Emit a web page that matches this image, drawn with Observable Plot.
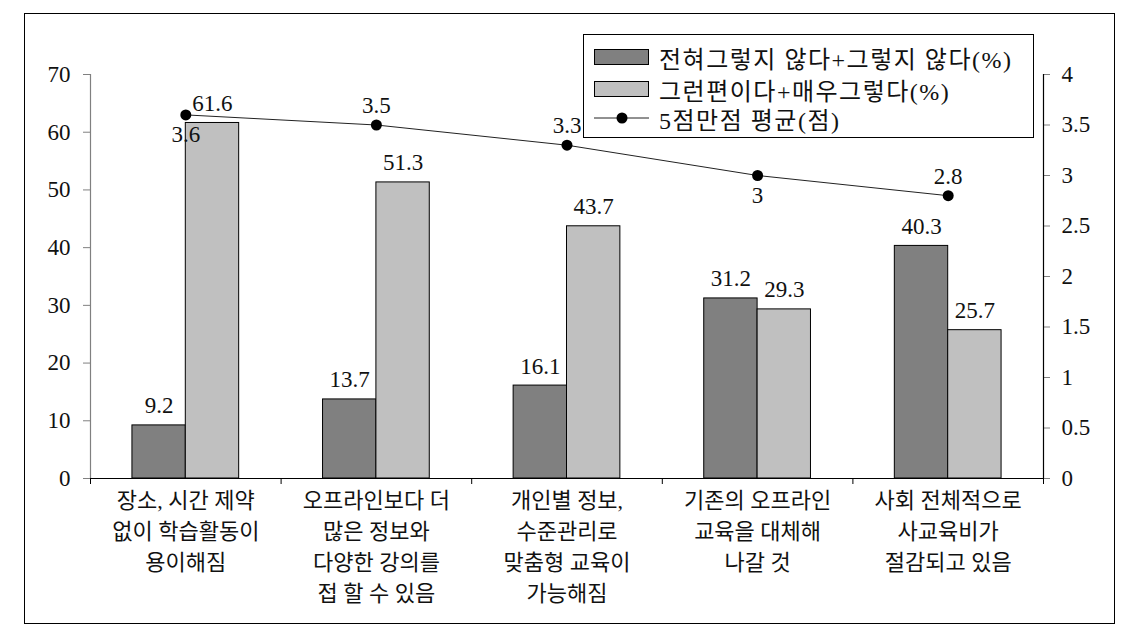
<!DOCTYPE html>
<html>
<head>
<meta charset="utf-8">
<script src="https://cdn.jsdelivr.net/npm/d3@7"></script>
<script src="https://cdn.jsdelivr.net/npm/@observablehq/plot@0.6"></script>
<style>
  html, body { margin: 0; padding: 0; background: #fff; }
  #wrap { position: relative; width: 1141px; height: 631px; overflow: hidden;
          font-family: 'Liberation Serif', 'Noto Sans CJK KR', serif; }
  #frame { position: absolute; left: 24px; top: 13px; width: 1091px; height: 611px;
           border: 1.5px solid #000; box-sizing: border-box; pointer-events: none; }
  #legend { position: absolute; left: 583px; top: 34px; width: 451px; height: 104px;
            border: 1.5px solid #000; box-sizing: border-box; background: #fff; }
  .row { position: absolute; left: 10px; height: 30px; display: flex; align-items: center; }
  .row span { font-size: 24px; letter-spacing: 1.5px; color: #111; margin-left: 10px; white-space: nowrap; }
  .sw { width: 55px; height: 16px; box-sizing: border-box; border: 1px solid #000; }
</style>
</head>
<body>
<div id="wrap">
  <div id="chart"></div>
  <div id="frame"></div>
  <div id="legend"></div>
</div>
<script>
const categories = [
  "장소, 시간 제약\n없이 학습활동이\n용이해짐",
  "오프라인보다 더\n많은 정보와\n다양한 강의를\n접 할 수 있음",
  "개인별 정보,\n수준관리로\n맞춤형 교육이\n가능해짐",
  "기존의 오프라인\n교육을 대체해\n나갈 것",
  "사회 전체적으로\n사교육비가\n절감되고 있음"
];
const disagree = [9.2, 13.7, 16.1, 31.2, 40.3];
const agree = [61.6, 51.3, 43.7, 29.3, 25.7];
const mean = [3.6, 3.5, 3.3, 3.0, 2.8];
const meanLabelAbove = [false, true, true, false, true];
const seriesNames = ["전혀그렇지 않다+그렇지 않다(%)", "그런편이다+매우그렇다(%)", "5점만점 평균(점)"];
const leftTicks = [0, 10, 20, 30, 40, 50, 60, 70];
const rightTicks = [0, 0.5, 1, 1.5, 2, 2.5, 3, 3.5, 4];

const colors = {dark: "#808080", light: "#c0c0c0"};
const ratio = 70 / 4;   // right-axis value -> left-axis units
const half = 0.28;      // bar width in band units

const bars = categories.flatMap((c, i) => [
  {i, kind: "dark", value: disagree[i]},
  {i, kind: "light", value: agree[i]}
]);
const means = mean.map((m, i) => ({i, m, above: meanLabelAbove[i]}));
const fmt = v => String(+v.toFixed(1));

const chart = Plot.plot({
  width: 1141,
  height: 631,
  marginLeft: 90,
  marginRight: 98,
  marginTop: 74,
  marginBottom: 153,
  style: {fontFamily: "'Liberation Serif','Noto Sans CJK KR',serif", fontSize: "22px", background: "transparent", color: "#111"},
  x: {domain: [0, 5], axis: null},
  y: {domain: [0, 70], axis: null},
  marks: [
    Plot.rectY(bars, {
      x1: d => d.i + 0.5 - (d.kind === "dark" ? half : 0),
      x2: d => d.i + 0.5 + (d.kind === "light" ? half : 0),
      y1: 0, y2: "value",
      fill: d => colors[d.kind], stroke: "#000", strokeWidth: 1
    }),
    Plot.text(bars, {
      x: d => d.i + 0.5 + (d.kind === "dark" ? -half / 2 : half / 2),
      y: "value", text: d => fmt(d.value),
      lineAnchor: "bottom", dy: -12, fontSize: 23, fill: "#111"
    }),
    Plot.axisY({ticks: leftTicks, label: null, tickSize: 7, tickPadding: 13, stroke: "#808080", fill: "#111", fontSize: 23}),
    Plot.ruleX([0], {stroke: "#808080", strokeWidth: 1.2}),
    Plot.axisY({anchor: "right", label: null, ticks: rightTicks.map(v => v * ratio), tickFormat: d => fmt(d / ratio),
      tickSize: 6, tickPadding: 12, stroke: "#808080", fill: "#111", fontSize: 23}),
    Plot.ruleX([5], {stroke: "#000", strokeWidth: 1.2}),
    Plot.ruleY([0], {stroke: "#000", strokeWidth: 1.2}),
    Plot.axisX({ticks: [0, 1, 2, 3, 4, 5], label: null, tickFormat: () => "", tickSize: 6, stroke: "#000"}),
    Plot.axisX({ticks: categories.map((c, i) => i + 0.5), label: null, tickFormat: d => categories[Math.floor(d)],
      tickSize: 0, tickPadding: 7, lineHeight: 1.42, fontSize: 22, fill: "#111",
      style: {letterSpacing: "1px"}}),
    Plot.line(means, {x: d => d.i + 0.5, y: d => d.m * ratio, stroke: "#222", strokeWidth: 1}),
    Plot.dot(means, {x: d => d.i + 0.5, y: d => d.m * ratio, r: 5.5, fill: "#000", stroke: "none"}),
    Plot.text(means.filter(d => d.above), {x: d => d.i + 0.5, y: d => d.m * ratio, text: d => fmt(d.m),
      lineAnchor: "bottom", dy: -12, fontSize: 23, fill: "#111"}),
    Plot.text(means.filter(d => !d.above), {x: d => d.i + 0.5, y: d => d.m * ratio, text: d => fmt(d.m),
      lineAnchor: "top", dy: 11, fontSize: 23, fill: "#111"})
  ]
});
document.getElementById("chart").appendChild(chart);

// legend
const legend = document.getElementById("legend");
const tops = [7, 39, 68];
seriesNames.forEach((name, k) => {
  const row = document.createElement("div");
  row.className = "row";
  row.style.top = tops[k] + "px";
  let sw;
  if (k < 2) {
    sw = document.createElement("div");
    sw.className = "sw";
    sw.style.background = k === 0 ? colors.dark : colors.light;
  } else {
    sw = document.createElementNS("http://www.w3.org/2000/svg", "svg");
    sw.setAttribute("width", 55); sw.setAttribute("height", 16);
    sw.innerHTML = '<line x1="0" x2="55" y1="8" y2="8" stroke="#222" stroke-width="1"/><circle cx="28" cy="8" r="5.5" fill="#000"/>';
  }
  const label = document.createElement("span");
  label.textContent = name;
  row.appendChild(sw);
  row.appendChild(label);
  legend.appendChild(row);
});
</script>
</body>
</html>
